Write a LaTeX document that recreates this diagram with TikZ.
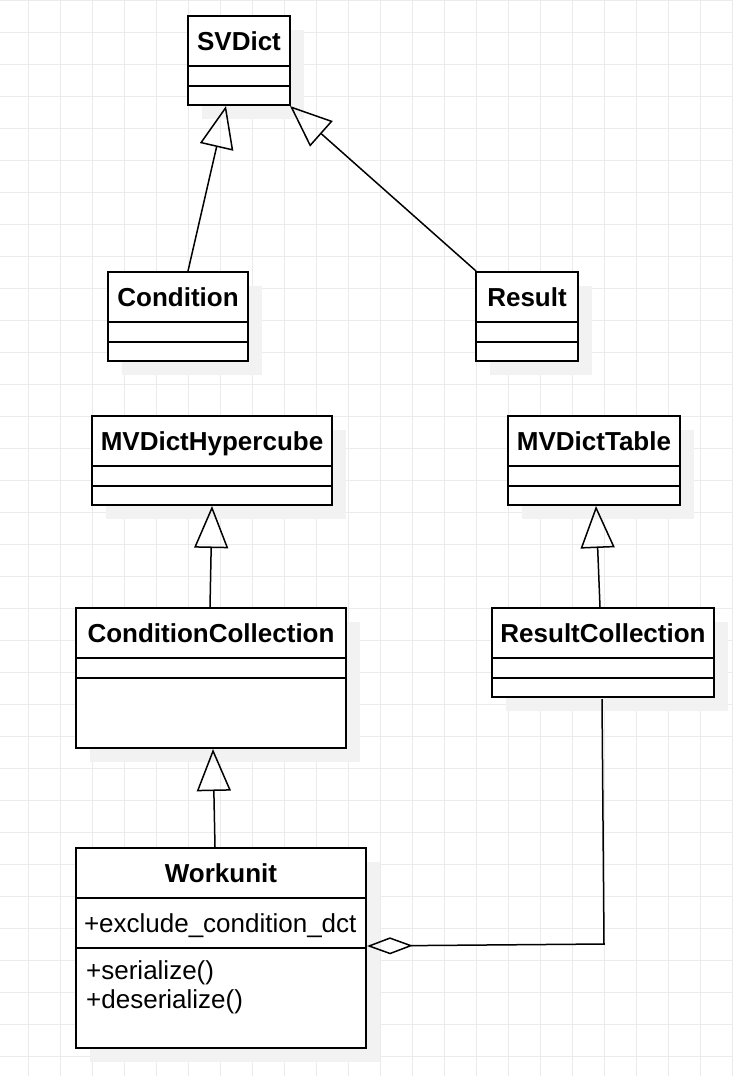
\documentclass[tikz,border=0pt]{standalone}
\usepackage{fontspec}
\setmainfont{Liberation Sans}
\usetikzlibrary{positioning,shadows,arrows.meta}
\begin{document}
\begin{tikzpicture}[x=1pt, y=-1pt,
      font=\fontsize{26}{29}\selectfont,
      gridline/.style = {draw=black!8, line width=1pt},
      box/.style = {draw, fill=white, line width=2pt, inner sep=0pt, outer sep=0pt,
        text height=19pt, text depth=0pt,
        drop shadow={shadow xshift=14pt, shadow yshift=-14pt,
          fill=black!5, opacity=1}},
      classname/.style = {box, anchor=north west, minimum height=50pt,
        font=\fontsize{26}{29}\selectfont\bfseries},
      inherit/.style = {line width=1.5pt,
        -{Triangle[open, length=42pt, width=34pt]}},
      aggregate/.style = {line width=1.5pt,
        -{Diamond[open, length=46pt, width=17pt]}}]
    \useasboundingbox (0,0) rectangle (732,1076);
    \foreach \gx in {0,...,22}
      \draw[gridline] ({28.5+32*\gx},0) -- ++(0,1076);
    \foreach \gy in {0,...,33}
      \draw[gridline] (0,{32*\gy}) -- ++(732,0);

    \node[classname, minimum width=102pt] (svdict) at (188,16) {SVDict};
    \node[box, below=0pt of svdict, minimum width=102pt, minimum height=20pt] (svdictattr) {};
    \node[box, below=0pt of svdictattr, minimum width=102pt, minimum height=18pt] (svdictops) {};

    \node[classname, minimum width=140pt] (condition) at (108,272) {Condition};
    \node[box, below=0pt of condition, minimum width=140pt, minimum height=20pt] (conditionattr) {};
    \node[box, below=0pt of conditionattr, minimum width=140pt, minimum height=18pt] (conditionops) {};

    \node[classname, minimum width=102pt] (result) at (476,272) {Result};
    \node[box, below=0pt of result, minimum width=102pt, minimum height=20pt] (resultattr) {};
    \node[box, below=0pt of resultattr, minimum width=102pt, minimum height=18pt] (resultops) {};

    \node[classname, minimum width=240pt] (hypercube) at (92,416) {MVDictHypercube};
    \node[box, below=0pt of hypercube, minimum width=240pt, minimum height=20pt] (hypercubeattr) {};
    \node[box, below=0pt of hypercubeattr, minimum width=240pt, minimum height=18pt] (hypercubeops) {};

    \node[classname, minimum width=172pt] (dicttable) at (508,416) {MVDictTable};
    \node[box, below=0pt of dicttable, minimum width=172pt, minimum height=20pt] (dicttableattr) {};
    \node[box, below=0pt of dicttableattr, minimum width=172pt, minimum height=18pt] (dicttableops) {};

    \node[classname, minimum width=270pt] (condcoll) at (76,608) {ConditionCollection};
    \node[box, below=0pt of condcoll, minimum width=270pt, minimum height=20pt] (condcollattr) {};
    \node[box, below=0pt of condcollattr, minimum width=270pt, minimum height=70pt] (condcollops) {};

    \node[classname, minimum width=222pt] (rescoll) at (492,608) {ResultCollection};
    \node[box, below=0pt of rescoll, minimum width=222pt, minimum height=20pt] (rescollattr) {};
    \node[box, below=0pt of rescollattr, minimum width=222pt, minimum height=18pt] (rescollops) {};

    \node[classname, minimum width=290pt] (workunit) at (76,848) {Workunit};
    \node[box, below=0pt of workunit, minimum width=290pt, minimum height=50pt,
      text width=274pt, inner xsep=8pt, align=left] (wuattr) {+exclude\_condition\_dct};
    \node[box, below=0pt of wuattr, minimum width=290pt, minimum height=100pt] (wumeth) {};
    \node[anchor=north west, align=left, inner sep=0pt] (wuops)
      at ([xshift=10pt, yshift=-12pt]wumeth.north west) {+serialize()\\+deserialize()};

    \draw[inherit] ([xshift=10pt, yshift=1pt]condition.north) -- ([xshift=-13pt, yshift=-1pt]svdictops.south);
    \draw[inherit] ([yshift=1pt]result.north west) -- ([yshift=-1pt]svdictops.south east);
    \draw[inherit] ([xshift=-1pt, yshift=1pt]condcoll.north) -- ([yshift=-1pt]hypercubeops.south);
    \draw[inherit] ([xshift=-3pt, yshift=1pt]rescoll.north) -- ([xshift=2pt, yshift=-1pt]dicttableops.south);
    \draw[inherit] ([xshift=-6pt, yshift=1pt]workunit.north) -- ([xshift=2pt, yshift=-1pt]condcollops.south);

    \coordinate (bend) at (604,944);
    \draw[aggregate] ([xshift=-1pt, yshift=-2pt]rescollops.south) -- (bend) -- ([xshift=1pt, yshift=2pt]wuattr.south east);
  \end{tikzpicture}
\end{document}
